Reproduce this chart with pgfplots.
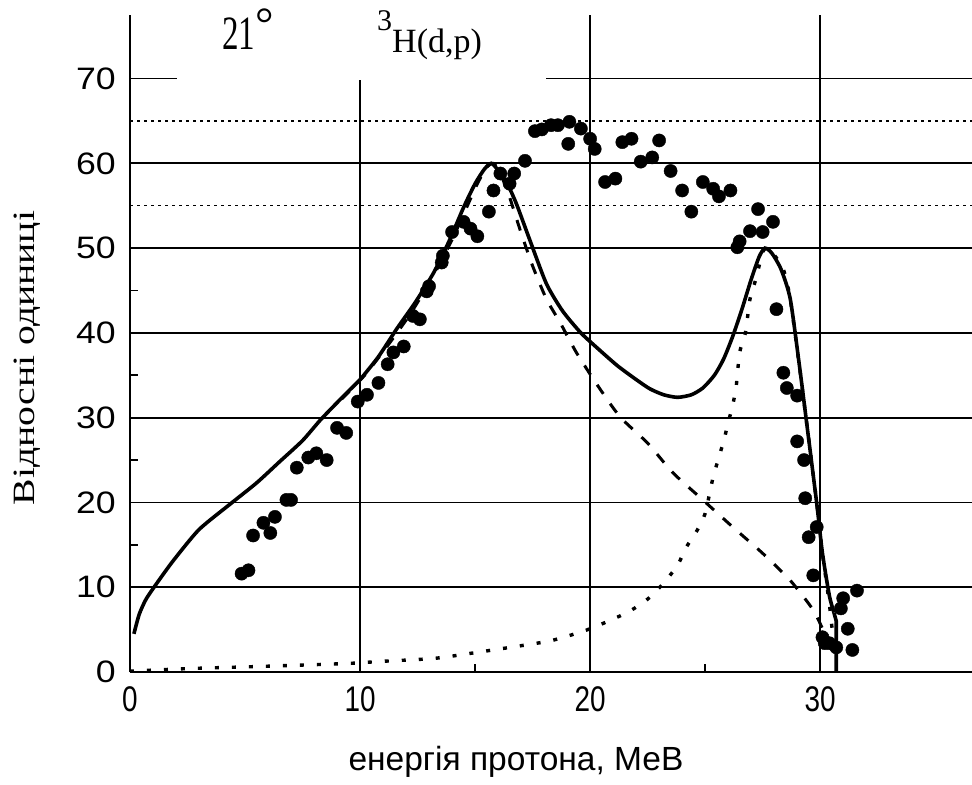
\documentclass[border=0pt]{standalone}
\usepackage{fontspec}
\setmainfont{Liberation Serif}
\setsansfont{Liberation Sans}
\usepackage{graphicx}
\usepackage{pgfplots}
\pgfplotsset{compat=1.18}

\begin{document}
\begin{tikzpicture}
\begin{axis}[
  scale only axis, width=842bp, height=657bp,
  xmin=0, xmax=36.6, ymin=0, ymax=77.5,
  axis lines=left, axis line style={-, line width=2.2bp, black},
  xtick={0,10,20,30}, ytick={0,10,...,70},
  grid=major, grid style={black, line width=1.7bp},
  tick align=inside, major tick length=0pt,
  /pgf/number format/assume math mode=true,
  xticklabel style={font=\sffamily\fontsize{31bp}{36bp}\selectfont, anchor=north, inner sep=0pt, yshift=-14bp, xscale=0.9, yscale=1.15},
  yticklabel style={font=\sffamily\fontsize{31bp}{36bp}\selectfont, anchor=east, inner sep=0pt, xshift=-14bp, xscale=1.15},
  extra x ticks={15,25}, extra x tick labels={},
  extra x tick style={grid=none, major tick length=8bp, tick style={black, line width=1.8bp}},
  extra y ticks={15,25,35,45}, extra y tick labels={},
  extra y tick style={grid=none, major tick length=8bp, tick style={black, line width=1.8bp}},
  clip mode=individual,
]
% reference levels
\addplot[black, line width=1.5bp, dash pattern=on 3bp off 4bp] coordinates {(0,65) (36.6,65)};
\addplot[black, line width=1.5bp, dash pattern=on 3bp off 4bp] coordinates {(0,55) (36.6,55)};

% dotted component
\addplot[black, line width=3.4bp, dash pattern=on 4bp off 13bp, smooth, tension=0.4] coordinates {
(0,0.1) (2.5,0.4) (5.6,0.65) (9.4,1.0) (10.9,1.25) (13.2,1.6) (14.8,2.2)
(17.7,3.4) (18.6,3.9) (20.0,5.1) (21.6,7.0) (22.5,8.6) (23.2,10.5)
(23.8,12.6) (24.2,14.8) (24.65,16.7) (25.0,18.7) (25.35,23.0) (25.8,27.2)
(26.0,29.4) (26.2,31.5) (26.35,33.7) (26.5,37.7) (26.75,40.0) (26.95,44.0)
(27.2,46.3) (27.5,49.5) (27.7,50.0) (28.0,49.2) (28.4,47.5) (28.7,44.0)
(29.1,36.0) (29.5,27.5) (29.85,20.0) (30.1,14.0) (30.4,8.0) (30.6,3.0)};

% dashed component
\addplot[black, line width=3bp, dash pattern=on 11bp off 12bp, smooth, tension=0.4] coordinates {
(9.2,32.2) (10.2,35.0) (11.2,38.5) (12.2,42.3) (13.2,46.8) (14.0,51.0)
(14.6,54.6) (15.1,57.6) (15.5,59.5) (15.8,60.0) (16.1,58.8) (16.5,56.0)
(17.0,51.8) (17.5,47.9) (18.1,44.0) (18.7,41.2) (19.4,37.7) (20.3,33.9)
(21.3,30.1) (22.5,27.0) (23.6,23.5) (24.9,20.3) (26.2,17.1) (27.5,14.0)
(28.7,10.8) (29.7,7.3) (30.2,4.5)};

% total fit
\addplot[black, line width=3.6bp, smooth, tension=0.4] coordinates {
(0.17,4.5) (0.4,6.8) (0.7,8.6) (1.2,10.6) (1.9,13.2) (3.0,16.8) (4.35,19.8)
(5.5,22.3) (6.5,24.8) (7.5,27.3) (8.3,29.8) (9.3,32.6) (10.0,34.5)
(10.8,37.2) (11.6,40.5) (12.4,43.6) (13.2,47.1) (13.9,51.0) (14.5,54.8)
(15.0,57.6) (15.4,59.3) (15.7,60.0) (16.0,59.2) (16.4,57.6) (16.8,55.2)
(17.4,50.8) (18.1,45.8) (18.8,42.6) (19.6,40.0) (20.4,38.0) (21.2,36.1)
(22.0,34.5) (22.6,33.4) (23.2,32.7) (23.8,32.4) (24.4,32.7) (24.9,33.5)
(25.4,35.0) (25.8,36.9) (26.2,39.6) (26.6,42.8) (27.0,46.3) (27.35,49.0)
(27.6,50.0) (27.9,49.4) (28.3,47.5) (28.7,44.0) (29.1,36.1) (29.5,27.5)
(29.85,19.9) (30.1,14.0) (30.4,9.0) (30.6,7.0)};
\addplot[black, line width=3.6bp] coordinates {(30.6,7.0) (30.7,6.0) (30.7,0)};

% measured spectrum
\addplot[only marks, mark=*, mark size=6.6bp, black] coordinates {
(4.85,11.6) (5.15,12.0) (5.35,16.1) (5.8,17.6) (6.1,16.4) (6.3,18.3)
(6.8,20.3) (7.0,20.3) (7.25,24.1) (7.75,25.3) (8.1,25.8) (8.55,25.0)
(9.0,28.8) (9.4,28.2) (9.9,31.9) (10.3,32.7) (10.8,34.1) (11.2,36.3)
(11.45,37.7) (11.9,38.4) (12.3,42.0) (12.6,41.6) (12.9,44.9) (13.0,45.5)
(13.55,48.3) (13.6,49.1) (14.0,51.9) (14.5,53.1) (14.8,52.3) (15.1,51.4)
(15.6,54.3) (15.8,56.8) (16.1,58.8) (16.5,57.6) (16.7,58.8) (17.17,60.3)
(17.6,63.8) (17.9,64.0) (18.3,64.5) (18.6,64.5) (19.1,64.9) (19.05,62.3)
(19.6,64.1) (20.0,62.9) (20.2,61.7) (20.65,57.8) (21.1,58.2) (21.4,62.5)
(21.8,62.9) (22.2,60.2) (22.7,60.7) (23.0,62.7) (23.5,59.1) (24.0,56.8)
(24.4,54.3) (24.9,57.8) (25.35,57.0) (25.6,56.1) (26.1,56.8) (26.4,50.1)
(26.5,50.8) (26.95,52.0) (27.3,54.6) (27.5,51.9) (27.95,53.1) (28.1,42.8)
(28.4,35.3) (28.55,33.5) (29.0,32.6) (29.0,27.2) (29.3,25.0) (29.35,20.5)
(29.85,17.1) (29.5,15.9) (29.7,11.4) (30.1,4.1) (30.2,3.4) (30.4,3.4)
(30.7,2.9) (30.9,7.5) (31.0,8.7) (31.2,5.1) (31.4,2.6) (31.6,9.6)};
\end{axis}

% title area
\fill[white] (47bp,591.5bp) rectangle (416bp,668bp);
\node[anchor=base west, inner sep=0pt, font=\fontsize{33bp}{36bp}\selectfont]
  at (92bp,622bp) {\scalebox{1}[1.45]{21}\raisebox{10bp}{\scalebox{1.4}{°}}};
\node[anchor=base west, inner sep=0pt, font=\fontsize{34bp}{36bp}\selectfont]
  at (247bp,619bp) {\raisebox{22bp}{\fontsize{30bp}{30bp}\selectfont 3}H(d,p)};

% axis titles
\node[rotate=90, anchor=base, inner sep=0pt, font=\fontsize{31bp}{36bp}\selectfont]
  at (-95bp,314bp) {\scalebox{1.28}[1]{Відносні одиниці}};
\node[anchor=base, inner sep=0pt, font=\sffamily\fontsize{33.5bp}{36bp}\selectfont]
  at (386bp,-98bp) {енергія протона, МеВ};

\pgfresetboundingbox
\useasboundingbox (-130bp,-113bp) rectangle (842bp,672bp);
\end{tikzpicture}
\end{document}
